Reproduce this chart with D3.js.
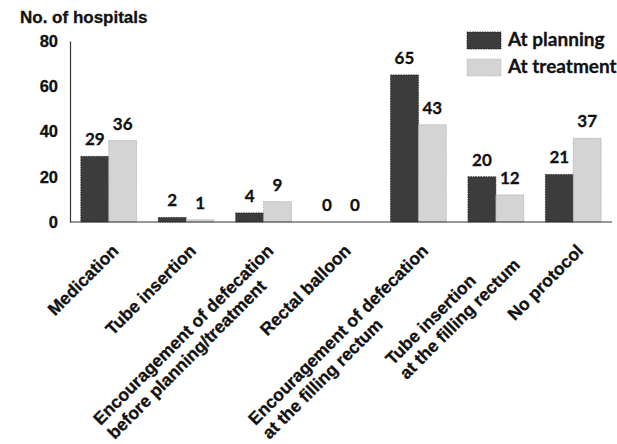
<!DOCTYPE html>
<html><head><meta charset="utf-8">
<script src="https://cdn.jsdelivr.net/npm/d3@7"></script>
<style>body{margin:0;background:#fff}</style>
</head><body>
<svg id="c" width="617" height="444"></svg>
<script>
const categories = ["Medication", "Tube insertion", "Encouragement of defecation\nbefore planning/treatment", "Rectal balloon", "Encouragement of defecation\nat the filling rectum", "Tube insertion\nat the filling rectum", "No protocol"];
const seriesNames = ["At planning", "At treatment"];
const atPlanning = [29, 2, 4, 0, 65, 20, 21];
const atTreatment = [36, 1, 9, 0, 43, 12, 37];
const yTicks = [0, 20, 40, 60, 80];
const yTitle = "No. of hospitals";

const series = [atPlanning, atTreatment];
const colors = ["#3c3c3c", "#d4d4d4"];
const svg = d3.select("#c");
const X0 = 70, X1 = 612, YT = 41, YB = 222;

const x = d3.scaleBand().domain(categories.map((d, i) => i)).range([X0, X1]).paddingInner(0.28).paddingOuter(0.14);
const xs = d3.scaleBand().domain(seriesNames).range([0, x.bandwidth()]);
const y = d3.scaleLinear().domain([0, 80]).range([YB, YT]);

const armFont = "'Liberation Sans', Arial, sans-serif";
const calFont = "Lato, 'Open Sans', sans-serif";

// title
svg.append("text").attr("x", 20).attr("y", 23).attr("font-family", armFont).attr("font-weight", "bold")
  .attr("font-size", 17).attr("fill", "#111").attr("stroke", "#111").attr("stroke-width", 0.3).text(yTitle);

// y axis
const yAxis = d3.axisLeft(y).tickValues(yTicks).tickSize(0).tickPadding(12);
const ya = svg.append("g").attr("transform", `translate(${X0},0)`).call(yAxis);
ya.select(".domain").attr("stroke", "#333").attr("stroke-width", 1.2);
ya.selectAll("text").attr("font-family", armFont).attr("font-weight", "bold").attr("font-size", 16.5)
  .attr("fill", "#111").attr("stroke", "#111").attr("stroke-width", 0.3);

// bars
const groups = svg.append("g").selectAll("g").data(categories).join("g")
  .attr("transform", (d, i) => `translate(${x(i)},0)`);
seriesNames.forEach((s, si) => {
  groups.append("rect")
    .attr("x", xs(s)).attr("width", xs.bandwidth())
    .attr("y", (d, i) => y(series[si][i])).attr("height", (d, i) => YB - y(series[si][i]))
    .attr("fill", colors[si]).attr("stroke", si === 0 ? "#222" : "#aaa").attr("stroke-width", 0.8)
    .attr("stroke-dasharray", "1.5,1");
  groups.append("text")
    .attr("x", xs(s) + xs.bandwidth() / 2).attr("y", (d, i) => y(series[si][i]) - 11)
    .attr("text-anchor", "middle").attr("font-family", calFont).attr("font-weight", "bold")
    .attr("font-size", 17).attr("fill", "#111").attr("stroke", "#111").attr("stroke-width", 0.3)
    .text((d, i) => series[si][i]);
});

// x axis line
svg.append("line").attr("x1", X0).attr("x2", X1).attr("y1", YB).attr("y2", YB)
  .attr("stroke", "#333").attr("stroke-width", 1.2);

// category labels (rotated -45, lines start-aligned, block top-right corner at tick)
const fs = 17.5, lh = 20;
categories.forEach((c, i) => {
  const g = svg.append("g").attr("transform", `translate(${x(i) + x.bandwidth() / 2 + 2},243) rotate(-45)`);
  const lines = c.split("\n");
  const ts = lines.map((l, li) => g.append("text").attr("y", fs * 0.72 + li * lh)
    .attr("font-family", armFont).attr("font-weight", "bold").attr("font-size", fs)
    .attr("fill", "#111").attr("stroke", "#111").attr("stroke-width", 0.3).text(l));
  const W = d3.max(ts, t => t.node().getComputedTextLength());
  ts.forEach(t => t.attr("x", -W));
});

// legend
const lg = svg.append("g");
seriesNames.forEach((s, si) => {
  lg.append("rect").attr("x", 467).attr("y", 32 + si * 27).attr("width", 34).attr("height", 17)
    .attr("fill", colors[si]).attr("stroke", si === 0 ? "#222" : "#bbb").attr("stroke-width", 0.8)
    .attr("stroke-dasharray", "1.5,1");
  lg.append("text").attr("x", 508).attr("y", 46 + si * 27).attr("font-family", calFont).attr("font-weight", "bold")
    .attr("font-size", 19).attr("fill", "#111").attr("stroke", "#111").attr("stroke-width", 0.3).text(s);
});
</script>
</body></html>
